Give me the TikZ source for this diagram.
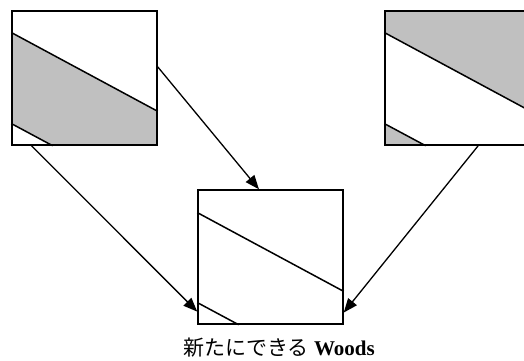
\documentclass[tikz,border=0pt]{standalone}
\usepackage{fontspec}
\setmainfont{Liberation Serif}
\newfontfamily\jpfont{Noto Sans CJK JP}
\usetikzlibrary{arrows.meta,positioning,calc,backgrounds}
\definecolor{Gc}{HTML}{C0C0C0}
\tikzset{
  frame/.style={rectangle, draw=black, line width=1.5pt, inner sep=0pt,
    minimum width=145pt, minimum height=134pt},
  cut/.style={line width=1.5pt},
  shade/.style={fill=Gc},
  link/.style={-{Triangle[length=14pt, width=11pt]}, line width=1.3pt},
}
\begin{document}
\begin{tikzpicture}[x=1pt, y=-1pt]
  \useasboundingbox (0,0) rectangle (524,360);
  \clip (0,0) rectangle (524,360);
  % the three boxes
  \node[frame] (L) at (84.5,78) {};
  \node[frame] (R) at (457.5,78) {};
  \node[frame] (M) at (270.5,257) {};
  % points on the borders
  \coordinate (Lt) at ($(L.north west)!0.164!(L.south west)$);
  \coordinate (Lb) at ($(L.north west)!0.836!(L.south west)$);
  \coordinate (Lr) at ($(L.north east)!0.746!(L.south east)$);
  \coordinate (Ls) at ($(L.south west)!0.283!(L.south east)$);
  \coordinate (Rt) at ($(R.north west)!0.164!(R.south west)$);
  \coordinate (Rb) at ($(R.north west)!0.836!(R.south west)$);
  \coordinate (Rr) at ($(R.north east)!0.746!(R.south east)$);
  \coordinate (Rs) at ($(R.south west)!0.283!(R.south east)$);
  \coordinate (Mt) at ($(M.north west)!0.172!(M.south west)$);
  \coordinate (Mb) at ($(M.north west)!0.836!(M.south west)$);
  \coordinate (Mr) at ($(M.north east)!0.754!(M.south east)$);
  \coordinate (Ms) at ($(M.south west)!0.283!(M.south east)$);
  % grey parts
  \begin{pgfonlayer}{background}
    \fill[shade] (Lt) -- (Lr) -- (L.south east) -- (Ls) -- (Lb) -- cycle;
    \fill[shade] (R.north west) -- (R.north east) -- (Rr) -- (Rt) -- cycle;
    \fill[shade] (Rb) -- (Rs) -- (R.south west) -- cycle;
  \end{pgfonlayer}
  \draw[cut] (Lt) -- (Lr);
  \draw[cut] (Lb) -- (Ls);
  \draw[cut] (Rt) -- (Rr);
  \draw[cut] (Rb) -- (Rs);
  \draw[cut] (Mt) -- (Mr);
  \draw[cut] (Mb) -- (Ms);
  % arrows
  \coordinate (a1) at ($(L.north east)!0.418!(L.south east)$);
  \coordinate (b1) at ($(M.north west)!0.421!(M.north east)$);
  \coordinate (a2) at ($(L.south west)!0.138!(L.south east)$);
  \coordinate (b2) at ($(M.north west)!0.903!(M.south west)$);
  \coordinate (a3) at ($(R.south west)!0.641!(R.south east)$);
  \coordinate (b3) at ($(M.north east)!0.91!(M.south east)$);
  \draw[link] (a1) -- (b1);
  \draw[link] (a2) -- (b2);
  \draw[link] (a3) -- (b3);
  \node[anchor=base, font=\fontsize{21}{24}\selectfont] (cap) at (279,355)
    {{\jpfont 新たにできる} \textbf{Woods}};
\end{tikzpicture}
\end{document}
